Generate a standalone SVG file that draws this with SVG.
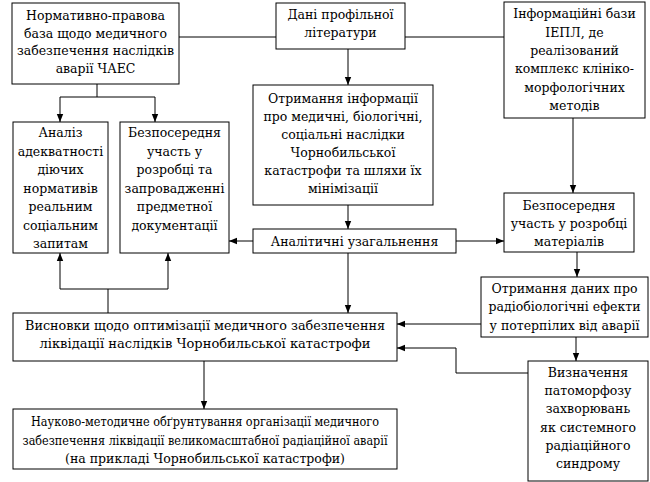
<svg xmlns="http://www.w3.org/2000/svg" width="650" height="482" viewBox="0 0 650 482">
<defs>
<style>
.b{fill:#fff;stroke:#000;stroke-width:1}
.c{fill:none;stroke:#000;stroke-width:1}
</style>
<marker id="a" markerUnits="userSpaceOnUse" markerWidth="8" markerHeight="8" viewBox="0 0 8 8" refX="8" refY="4" orient="auto">
<path d="M0,0.8 L8,4 L0,7.2 Z" fill="#000"/>
</marker>
</defs>
<rect width="650" height="482" fill="#fff"/>
<g id="connectors">
<path class="c" d="M179,37 H276"/>
<path class="c" d="M405,37 H504"/>
<path class="c" d="M348,49 V85" marker-end="url(#a)"/>
<path class="c" d="M97,84 V97"/>
<path class="c" d="M60,97 H155"/>
<path class="c" d="M60,97 V122" marker-end="url(#a)"/>
<path class="c" d="M155,97 V122" marker-end="url(#a)"/>
<path class="c" d="M573,118 V193" marker-end="url(#a)"/>
<path class="c" d="M348,205 V229" marker-end="url(#a)"/>
<path class="c" d="M253,241 H229" marker-end="url(#a)"/>
<path class="c" d="M456,241 H504" marker-end="url(#a)"/>
<path class="c" d="M577,252 V277" marker-end="url(#a)"/>
<path class="c" d="M348,253 V313" marker-end="url(#a)"/>
<path class="c" d="M481,324 H397" marker-end="url(#a)"/>
<path class="c" d="M576,337 V361" marker-end="url(#a)"/>
<path class="c" d="M528,373 H456 V348 H397" marker-end="url(#a)"/>
<path class="c" d="M108,313 V289"/>
<path class="c" d="M60,289 H168"/>
<path class="c" d="M60,289 V253" marker-end="url(#a)"/>
<path class="c" d="M168,289 V253" marker-end="url(#a)"/>
<path class="c" d="M204,361 V409" marker-end="url(#a)"/>
</g>
<g font-family="DejaVu Serif, serif" font-size="12.5" text-anchor="middle" fill="#000">
<g id="n1">
<rect class="b" x="12" y="3" width="167" height="81"/>
<text x="95.5" y="20">Нормативно-правова</text>
<text x="95.5" y="38">база щодо медичного</text>
<text x="95.5" y="55">забезпечення наслідків</text>
<text x="95.5" y="73">аварії ЧАЕС</text>
</g>
<g id="n2">
<rect class="b" x="276" y="3" width="129" height="46"/>
<text x="340.5" y="19">Дані профільної</text>
<text x="340.5" y="37">літератури</text>
</g>
<g id="n3">
<rect class="b" x="504" y="2" width="141" height="116"/>
<text x="574.5" y="18">Інформаційні бази</text>
<text x="574.5" y="37">ІЕПЛ, де</text>
<text x="574.5" y="55">реалізований</text>
<text x="574.5" y="73">комплекс клініко-</text>
<text x="574.5" y="92">морфологічних</text>
<text x="574.5" y="110">методів</text>
</g>
<g id="n4">
<rect class="b" x="13" y="122" width="95" height="131"/>
<text x="60.5" y="137">Аналіз</text>
<text x="60.5" y="155.5">адекватності</text>
<text x="60.5" y="174">діючих</text>
<text x="60.5" y="192.5">нормативів</text>
<text x="60.5" y="211">реальним</text>
<text x="60.5" y="229.5">соціальним</text>
<text x="60.5" y="248">запитам</text>
</g>
<g id="n5">
<rect class="b" x="120" y="122" width="109" height="131"/>
<text x="174.5" y="137">Безпосередня</text>
<text x="174.5" y="155.5">участь у</text>
<text x="174.5" y="174">розробці та</text>
<text x="174.5" y="192.5">запровадженні</text>
<text x="174.5" y="211">предметної</text>
<text x="174.5" y="229.5">документації</text>
</g>
<g id="n6">
<rect class="b" x="253" y="85" width="180" height="120"/>
<text x="343" y="103">Отримання інформації</text>
<text x="343" y="121">про медичні, біологічні,</text>
<text x="343" y="139">соціальні наслідки</text>
<text x="343" y="157">Чорнобильської</text>
<text x="343" y="175">катастрофи та шляхи їх</text>
<text x="343" y="193">мінімізації</text>
</g>
<g id="n7">
<rect class="b" x="253" y="229" width="203" height="24"/>
<text x="354.5" y="246">Аналітичні узагальнення</text>
</g>
<g id="n8">
<rect class="b" x="504" y="193" width="130" height="59"/>
<text x="569" y="210">Безпосередня</text>
<text x="569" y="228">участь у розробці</text>
<text x="569" y="246">матеріалів</text>
</g>
<g id="n9">
<rect class="b" x="481" y="277" width="167" height="60"/>
<text x="564.5" y="293">Отримання даних про</text>
<text x="564.5" y="311">радіобіологічні ефекти</text>
<text x="564.5" y="330">у потерпілих від аварії</text>
</g>
<g id="n10">
<rect class="b" x="13" y="313" width="384" height="48"/>
<text x="205" y="330" textLength="360" lengthAdjust="spacingAndGlyphs">Висновки щодо оптимізації медичного забезпечення</text>
<text x="205" y="348" textLength="331" lengthAdjust="spacingAndGlyphs">ліквідації наслідків Чорнобильської катастрофи</text>
</g>
<g id="n11">
<rect class="b" x="13" y="409" width="384" height="60"/>
<text x="205" y="426" textLength="348" lengthAdjust="spacingAndGlyphs">Науково-методичне обґрунтування організації медичного</text>
<text x="205" y="445" textLength="365" lengthAdjust="spacingAndGlyphs">забезпечення ліквідації великомасштабної радіаційної аварії</text>
<text x="205" y="463" textLength="280" lengthAdjust="spacingAndGlyphs">(на прикладі Чорнобильської катастрофи)</text>
</g>
<g id="n12">
<rect class="b" x="528" y="361" width="120" height="120"/>
<text x="588" y="377">Визначення</text>
<text x="588" y="395">патоморфозу</text>
<text x="588" y="413">захворювань</text>
<text x="588" y="432">як системного</text>
<text x="588" y="450">радіаційного</text>
<text x="588" y="468">синдрому</text>
</g>
</g>
</svg>
